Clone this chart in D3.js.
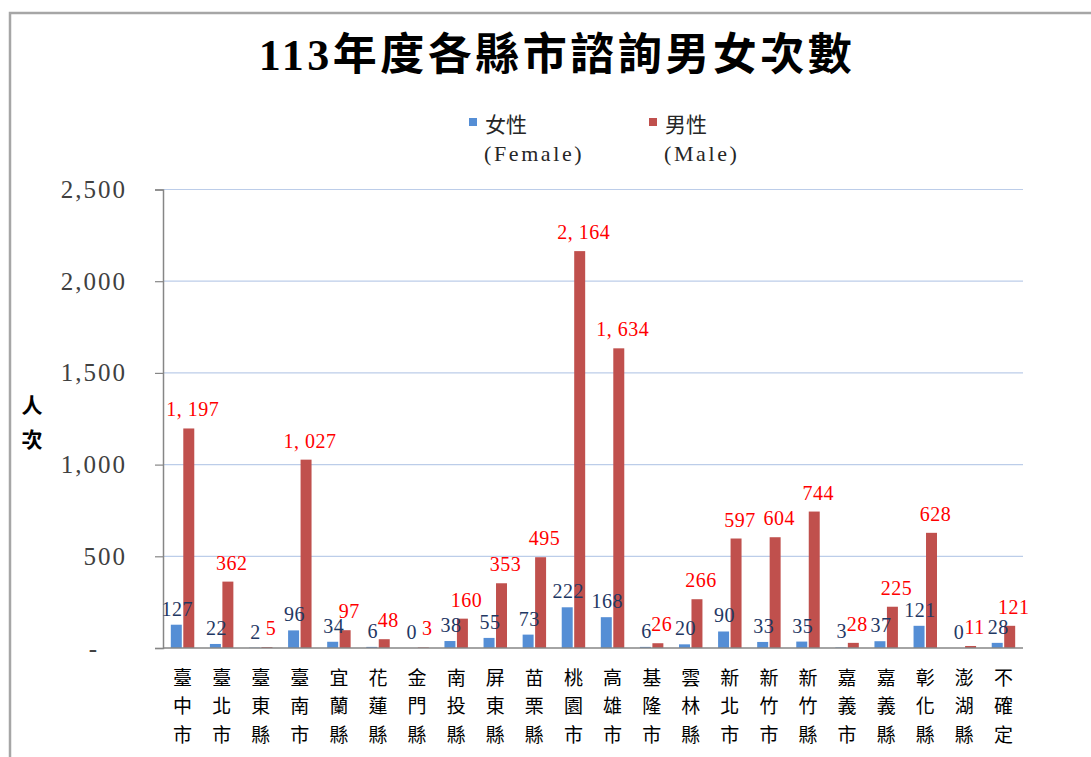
<!DOCTYPE html>
<html>
<head>
<meta charset="utf-8">
<script src="https://cdn.jsdelivr.net/npm/d3@7"></script>
<style>
  body { margin: 0; background: #fff; }
  svg { display: block; }
</style>
</head>
<body>
<svg id="chart" width="1091" height="757"></svg>
<script>
// data
const counties = ["臺中市", "臺北市", "臺東縣", "臺南市", "宜蘭縣", "花蓮縣", "金門縣", "南投縣", "屏東縣", "苗栗縣", "桃園市",
  "高雄市", "基隆市", "雲林縣", "新北市", "新竹市", "新竹縣", "嘉義市", "嘉義縣", "彰化縣", "澎湖縣", "不確定"]
const female = [127, 22, 2, 96, 34, 6, 0, 38, 55, 73, 222, 168, 6, 20, 90, 33, 35, 3, 37, 121, 0, 28]
const male = [1197, 362, 5, 1027, 97, 48, 3, 160, 353, 495, 2164, 1634, 26, 266, 597, 604, 744, 28, 225, 628, 11, 121]
const yTicks = [0, 500, 1000, 1500, 2000, 2500]
const seriesNames = ["女性", "男性"]
const seriesSub = ["(Female)", "(Male)"]

const colors = { "女性": "#558ed5", "男性": "#c0504d" }
const labelColors = { "女性": "#1f3864", "男性": "#ff0000" }
// label nudges so they sit like the Excel labels
const labelDx = { "女性": 1, "男性": 4 }
const labelGap = { "女性": 9, "男性": 12 }
const numFont = "'Liberation Serif', 'Noto Sans CJK TC', serif"
const cjkFont = "'Noto Sans CJK TC', sans-serif"

const svg = d3.select("#chart")

// outer frame (only top and left edges are visible)
svg.append("path")
  .attr("d", "M10,757 L10,13 L1091,13")
  .attr("fill", "none")
  .attr("stroke", "#a6a6a6")
  .attr("stroke-width", 2.5)

// title
svg.append("text")
  .attr("x", 557).attr("y", 70)
  .attr("text-anchor", "middle")
  .attr("font-family", numFont)
  .attr("font-weight", "bold")
  .attr("font-size", 44)
  .attr("letter-spacing", 3.5)
  .attr("fill", "#000")
  .text("113年度各縣市諮詢男女次數")

// plot area
const plotLeft = 163, plotRight = 1023, plotTop = 189.5, plotBottom = 648

const rows = counties.map((c, i) => ({ county: c, "女性": female[i], "男性": male[i] }))

const x0 = d3.scaleBand().domain(counties).range([plotLeft, plotRight]).paddingInner(0.4).paddingOuter(0.2)
const x1 = d3.scaleBand().domain(seriesNames).range([0, x0.bandwidth()]).paddingInner(0.12)
const y = d3.scaleLinear().domain([0, 2500]).range([plotBottom, plotTop])

// gridlines
svg.append("g").selectAll("line")
  .data(yTicks.filter(d => d > 0))
  .join("line")
  .attr("x1", plotLeft).attr("x2", plotRight)
  .attr("y1", d => y(d)).attr("y2", d => y(d))
  .attr("stroke", "#bccde9")
  .attr("stroke-width", 1.2)

// y axis
const yAxis = svg.append("g")
  .attr("class", "y-axis")
  .attr("transform", `translate(${plotLeft},0)`)
  .call(d3.axisLeft(y).tickValues(yTicks).tickSize(8).tickPadding(28)
    .tickFormat(d => d === 0 ? "-" : d3.format(",")(d)))
yAxis.select(".domain").attr("stroke", "#868686").attr("stroke-width", 1.5)
yAxis.selectAll(".tick line").attr("stroke", "#868686").attr("stroke-width", 1.2)
yAxis.selectAll("text")
  .attr("font-family", numFont)
  .attr("font-size", 25)
  .attr("letter-spacing", 2)
  .attr("fill", "#404040")
yAxis.selectAll(".tick").filter(d => d === 0).select("text")
  .attr("x", -69).attr("text-anchor", "middle")

// bars
const groups = svg.append("g").selectAll("g")
  .data(rows)
  .join("g")
  .attr("transform", d => `translate(${x0(d.county)},0)`)

groups.selectAll("rect")
  .data(d => seriesNames.map(k => ({ key: k, value: d[k] })))
  .join("rect")
  .attr("x", d => x1(d.key))
  .attr("width", x1.bandwidth())
  .attr("y", d => y(d.value))
  .attr("height", d => plotBottom - y(d.value))
  .attr("fill", d => colors[d.key])

// data labels
groups.selectAll("text")
  .data(d => seriesNames.map(k => ({ key: k, value: d[k] })))
  .join("text")
  .attr("x", d => x1(d.key) + x1.bandwidth() / 2 + labelDx[d.key])
  .attr("y", d => y(d.value) - labelGap[d.key])
  .attr("text-anchor", "middle")
  .attr("font-family", numFont)
  .attr("font-size", 20)
  .attr("letter-spacing", 0.5)
  .attr("fill", d => labelColors[d.key])
  .text(d => d3.format(",")(d.value).replace(",", ", "))

// x axis line
svg.append("line")
  .attr("x1", plotLeft).attr("x2", plotRight)
  .attr("y1", plotBottom).attr("y2", plotBottom)
  .attr("stroke", "#868686")
  .attr("stroke-width", 1.5)

// x labels, one character per line
svg.append("g").selectAll("text")
  .data(counties)
  .join("text")
  .attr("x", d => x0(d) + x0.bandwidth() / 2)
  .attr("y", 678)
  .attr("text-anchor", "middle")
  .attr("font-family", cjkFont)
  .attr("font-size", 19)
  .attr("fill", "#000")
  .selectAll("tspan")
  .data(d => d.split(""))
  .join("tspan")
  .attr("x", function () { return d3.select(this.parentNode).attr("x") })
  .attr("y", (d, i) => 678 + i * 28.5)
  .attr("dy", "0.35em")
  .text(d => d)

// y axis title
svg.append("text")
  .attr("x", 32).attr("y", 406)
  .attr("text-anchor", "middle")
  .attr("font-family", cjkFont)
  .attr("font-weight", "bold")
  .attr("font-size", 21)
  .selectAll("tspan")
  .data(["人", "次"])
  .join("tspan")
  .attr("x", 32)
  .attr("y", (d, i) => 406 + i * 34)
  .attr("dy", "0.35em")
  .text(d => d)

// legend
const legend = svg.append("g")
const legendX = [469, 649]
seriesNames.forEach((s, i) => {
  legend.append("rect")
    .attr("x", legendX[i]).attr("y", 118)
    .attr("width", 8).attr("height", 8)
    .attr("fill", colors[s])
  legend.append("text")
    .attr("x", legendX[i] + 16).attr("y", 124.5)
    .attr("dy", "0.35em")
    .attr("font-family", cjkFont)
    .attr("font-size", 21)
    .attr("fill", "#262626")
    .text(s)
  legend.append("text")
    .attr("x", legendX[i] + 15).attr("y", 153.5)
    .attr("dy", "0.35em")
    .attr("font-family", numFont)
    .attr("font-size", 22)
    .attr("letter-spacing", 2.6)
    .attr("fill", "#262626")
    .text(seriesSub[i])
})
</script>
</body>
</html>
